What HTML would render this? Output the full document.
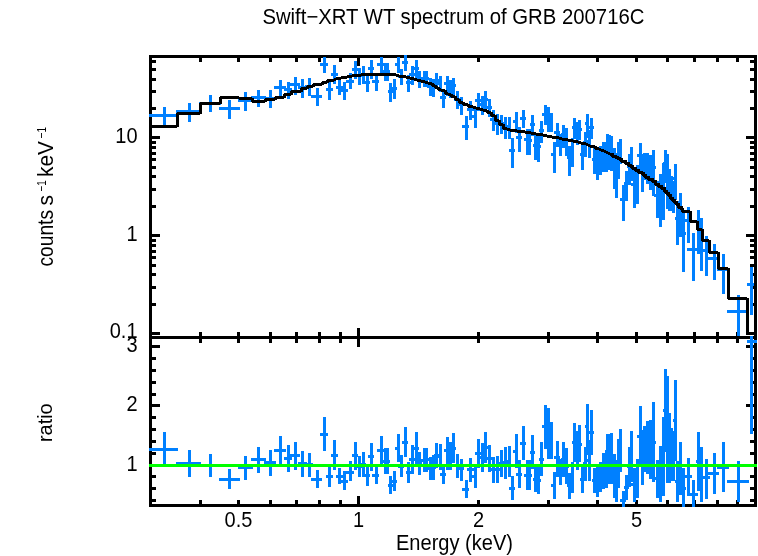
<!DOCTYPE html>
<html><head><meta charset="utf-8"><title>Swift-XRT WT spectrum of GRB 200716C</title>
<style>
html,body{margin:0;padding:0;background:#fff;}
svg{display:block;}
text{font-family:"Liberation Sans",Arial,Helvetica,sans-serif;fill:#000;}
</style></head>
<body>
<svg width="758" height="556" viewBox="0 0 758 556">
<defs>
<clipPath id="cu"><rect x="149" y="55" width="608" height="284"/></clipPath>
<clipPath id="cl"><rect x="149" y="336" width="608" height="171"/></clipPath>
</defs>
<rect width="758" height="556" fill="#fff"/>
<g shape-rendering="crispEdges">
<rect x="149" y="55" width="608" height="3" fill="#000"/>
<rect x="149" y="336" width="608" height="3" fill="#000"/>
<rect x="149" y="55" width="3" height="284" fill="#000"/>
<rect x="754" y="55" width="3" height="284" fill="#000"/>
<rect x="199" y="56" width="3" height="6" fill="#000"/>
<rect x="199" y="332" width="3" height="5" fill="#000"/>
<rect x="237" y="56" width="3" height="6" fill="#000"/>
<rect x="237" y="332" width="3" height="5" fill="#000"/>
<rect x="269" y="56" width="3" height="6" fill="#000"/>
<rect x="269" y="332" width="3" height="5" fill="#000"/>
<rect x="295" y="56" width="3" height="6" fill="#000"/>
<rect x="295" y="332" width="3" height="5" fill="#000"/>
<rect x="318" y="56" width="3" height="6" fill="#000"/>
<rect x="318" y="332" width="3" height="5" fill="#000"/>
<rect x="339" y="56" width="3" height="6" fill="#000"/>
<rect x="339" y="332" width="3" height="5" fill="#000"/>
<rect x="357" y="56" width="3" height="10" fill="#000"/>
<rect x="357" y="328" width="3" height="9" fill="#000"/>
<rect x="477" y="56" width="3" height="6" fill="#000"/>
<rect x="477" y="332" width="3" height="5" fill="#000"/>
<rect x="547" y="56" width="3" height="6" fill="#000"/>
<rect x="547" y="332" width="3" height="5" fill="#000"/>
<rect x="596" y="56" width="3" height="6" fill="#000"/>
<rect x="596" y="332" width="3" height="5" fill="#000"/>
<rect x="635" y="56" width="3" height="6" fill="#000"/>
<rect x="635" y="332" width="3" height="5" fill="#000"/>
<rect x="666" y="56" width="3" height="6" fill="#000"/>
<rect x="666" y="332" width="3" height="5" fill="#000"/>
<rect x="693" y="56" width="3" height="6" fill="#000"/>
<rect x="693" y="332" width="3" height="5" fill="#000"/>
<rect x="716" y="56" width="3" height="6" fill="#000"/>
<rect x="716" y="332" width="3" height="5" fill="#000"/>
<rect x="736" y="56" width="3" height="6" fill="#000"/>
<rect x="736" y="332" width="3" height="5" fill="#000"/>
<rect x="150" y="332" width="10" height="3" fill="#000"/>
<rect x="746" y="332" width="9" height="3" fill="#000"/>
<rect x="150" y="303" width="6" height="3" fill="#000"/>
<rect x="750" y="303" width="5" height="3" fill="#000"/>
<rect x="150" y="286" width="6" height="3" fill="#000"/>
<rect x="750" y="286" width="5" height="3" fill="#000"/>
<rect x="150" y="273" width="6" height="3" fill="#000"/>
<rect x="750" y="273" width="5" height="3" fill="#000"/>
<rect x="150" y="264" width="6" height="3" fill="#000"/>
<rect x="750" y="264" width="5" height="3" fill="#000"/>
<rect x="150" y="256" width="6" height="3" fill="#000"/>
<rect x="750" y="256" width="5" height="3" fill="#000"/>
<rect x="150" y="250" width="6" height="3" fill="#000"/>
<rect x="750" y="250" width="5" height="3" fill="#000"/>
<rect x="150" y="244" width="6" height="3" fill="#000"/>
<rect x="750" y="244" width="5" height="3" fill="#000"/>
<rect x="150" y="239" width="6" height="3" fill="#000"/>
<rect x="750" y="239" width="5" height="3" fill="#000"/>
<rect x="150" y="234" width="10" height="3" fill="#000"/>
<rect x="746" y="234" width="9" height="3" fill="#000"/>
<rect x="150" y="205" width="6" height="3" fill="#000"/>
<rect x="750" y="205" width="5" height="3" fill="#000"/>
<rect x="150" y="188" width="6" height="3" fill="#000"/>
<rect x="750" y="188" width="5" height="3" fill="#000"/>
<rect x="150" y="175" width="6" height="3" fill="#000"/>
<rect x="750" y="175" width="5" height="3" fill="#000"/>
<rect x="150" y="166" width="6" height="3" fill="#000"/>
<rect x="750" y="166" width="5" height="3" fill="#000"/>
<rect x="150" y="158" width="6" height="3" fill="#000"/>
<rect x="750" y="158" width="5" height="3" fill="#000"/>
<rect x="150" y="152" width="6" height="3" fill="#000"/>
<rect x="750" y="152" width="5" height="3" fill="#000"/>
<rect x="150" y="146" width="6" height="3" fill="#000"/>
<rect x="750" y="146" width="5" height="3" fill="#000"/>
<rect x="150" y="141" width="6" height="3" fill="#000"/>
<rect x="750" y="141" width="5" height="3" fill="#000"/>
<rect x="150" y="136" width="10" height="3" fill="#000"/>
<rect x="746" y="136" width="9" height="3" fill="#000"/>
<rect x="150" y="107" width="6" height="3" fill="#000"/>
<rect x="750" y="107" width="5" height="3" fill="#000"/>
<rect x="150" y="90" width="6" height="3" fill="#000"/>
<rect x="750" y="90" width="5" height="3" fill="#000"/>
<rect x="150" y="78" width="6" height="3" fill="#000"/>
<rect x="750" y="78" width="5" height="3" fill="#000"/>
<rect x="150" y="68" width="6" height="3" fill="#000"/>
<rect x="750" y="68" width="5" height="3" fill="#000"/>
<rect x="150" y="60" width="6" height="3" fill="#000"/>
<rect x="750" y="60" width="5" height="3" fill="#000"/>
<g clip-path="url(#cu)">
<rect x="163" y="107" width="3" height="18" fill="#0080ff"/>
<rect x="149" y="114" width="29" height="3" fill="#0080ff"/>
<rect x="188" y="103" width="3" height="19" fill="#0080ff"/>
<rect x="176" y="110" width="25" height="3" fill="#0080ff"/>
<rect x="209" y="95" width="3" height="17" fill="#0080ff"/>
<rect x="199" y="102" width="22" height="3" fill="#0080ff"/>
<rect x="228" y="100" width="3" height="19" fill="#0080ff"/>
<rect x="219" y="107" width="21" height="3" fill="#0080ff"/>
<rect x="244" y="92" width="3" height="19" fill="#0080ff"/>
<rect x="238" y="99" width="15" height="3" fill="#0080ff"/>
<rect x="257" y="90" width="3" height="17" fill="#0080ff"/>
<rect x="251" y="96" width="15" height="3" fill="#0080ff"/>
<rect x="269" y="90" width="3" height="18" fill="#0080ff"/>
<rect x="264" y="97" width="12" height="3" fill="#0080ff"/>
<rect x="279" y="80" width="3" height="17" fill="#0080ff"/>
<rect x="274" y="86" width="12" height="3" fill="#0080ff"/>
<rect x="287" y="82" width="3" height="17" fill="#0080ff"/>
<rect x="284" y="88" width="8" height="3" fill="#0080ff"/>
<rect x="294" y="77" width="3" height="18" fill="#0080ff"/>
<rect x="290" y="83" width="10" height="3" fill="#0080ff"/>
<rect x="301" y="79" width="3" height="19" fill="#0080ff"/>
<rect x="298" y="86" width="9" height="3" fill="#0080ff"/>
<rect x="308" y="78" width="3" height="18" fill="#0080ff"/>
<rect x="305" y="85" width="8" height="3" fill="#0080ff"/>
<rect x="316" y="88" width="3" height="18" fill="#0080ff"/>
<rect x="311" y="95" width="11" height="3" fill="#0080ff"/>
<rect x="323" y="57" width="3" height="16" fill="#0080ff"/>
<rect x="320" y="63" width="8" height="3" fill="#0080ff"/>
<rect x="328" y="82" width="3" height="18" fill="#0080ff"/>
<rect x="326" y="88" width="7" height="3" fill="#0080ff"/>
<rect x="333" y="65" width="3" height="19" fill="#0080ff"/>
<rect x="331" y="73" width="7" height="3" fill="#0080ff"/>
<rect x="338" y="80" width="3" height="15" fill="#0080ff"/>
<rect x="336" y="86" width="7" height="3" fill="#0080ff"/>
<rect x="343" y="82" width="3" height="18" fill="#0080ff"/>
<rect x="341" y="89" width="7" height="3" fill="#0080ff"/>
<rect x="349" y="73" width="3" height="16" fill="#0080ff"/>
<rect x="346" y="80" width="8" height="3" fill="#0080ff"/>
<rect x="354" y="61" width="3" height="18" fill="#0080ff"/>
<rect x="352" y="68" width="6" height="3" fill="#0080ff"/>
<rect x="358" y="68" width="3" height="17" fill="#0080ff"/>
<rect x="356" y="74" width="6" height="3" fill="#0080ff"/>
<rect x="362" y="66" width="3" height="18" fill="#0080ff"/>
<rect x="360" y="73" width="6" height="3" fill="#0080ff"/>
<rect x="366" y="74" width="3" height="18" fill="#0080ff"/>
<rect x="364" y="81" width="6" height="3" fill="#0080ff"/>
<rect x="370" y="60" width="3" height="19" fill="#0080ff"/>
<rect x="368" y="67" width="6" height="3" fill="#0080ff"/>
<rect x="375" y="75" width="3" height="16" fill="#0080ff"/>
<rect x="372" y="80" width="7" height="3" fill="#0080ff"/>
<rect x="380" y="57" width="3" height="16" fill="#0080ff"/>
<rect x="377" y="63" width="7" height="3" fill="#0080ff"/>
<rect x="384" y="63" width="3" height="18" fill="#0080ff"/>
<rect x="382" y="70" width="5" height="3" fill="#0080ff"/>
<rect x="386" y="63" width="3" height="18" fill="#0080ff"/>
<rect x="385" y="70" width="5" height="3" fill="#0080ff"/>
<rect x="389" y="83" width="3" height="19" fill="#0080ff"/>
<rect x="388" y="90" width="5" height="3" fill="#0080ff"/>
<rect x="393" y="79" width="3" height="20" fill="#0080ff"/>
<rect x="391" y="87" width="6" height="3" fill="#0080ff"/>
<rect x="397" y="57" width="3" height="16" fill="#0080ff"/>
<rect x="395" y="63" width="5" height="3" fill="#0080ff"/>
<rect x="400" y="69" width="3" height="16" fill="#0080ff"/>
<rect x="398" y="75" width="6" height="3" fill="#0080ff"/>
<rect x="404" y="55" width="3" height="16" fill="#0080ff"/>
<rect x="402" y="61" width="6" height="3" fill="#0080ff"/>
<rect x="407" y="75" width="3" height="17" fill="#0080ff"/>
<rect x="406" y="81" width="5" height="3" fill="#0080ff"/>
<rect x="411" y="66" width="3" height="19" fill="#0080ff"/>
<rect x="409" y="73" width="6" height="3" fill="#0080ff"/>
<rect x="415" y="60" width="3" height="19" fill="#0080ff"/>
<rect x="413" y="67" width="6" height="3" fill="#0080ff"/>
<rect x="418" y="71" width="3" height="17" fill="#0080ff"/>
<rect x="417" y="78" width="5" height="3" fill="#0080ff"/>
<rect x="423" y="71" width="3" height="16" fill="#0080ff"/>
<rect x="420" y="77" width="6" height="3" fill="#0080ff"/>
<rect x="425" y="71" width="3" height="16" fill="#0080ff"/>
<rect x="424" y="77" width="5" height="3" fill="#0080ff"/>
<rect x="429" y="78" width="3" height="18" fill="#0080ff"/>
<rect x="427" y="85" width="6" height="3" fill="#0080ff"/>
<rect x="432" y="79" width="3" height="18" fill="#0080ff"/>
<rect x="431" y="86" width="5" height="3" fill="#0080ff"/>
<rect x="435" y="73" width="3" height="16" fill="#0080ff"/>
<rect x="434" y="79" width="5" height="3" fill="#0080ff"/>
<rect x="439" y="76" width="3" height="16" fill="#0080ff"/>
<rect x="437" y="82" width="5" height="3" fill="#0080ff"/>
<rect x="442" y="90" width="3" height="18" fill="#0080ff"/>
<rect x="440" y="96" width="6" height="3" fill="#0080ff"/>
<rect x="446" y="76" width="3" height="20" fill="#0080ff"/>
<rect x="444" y="82" width="5" height="3" fill="#0080ff"/>
<rect x="449" y="80" width="3" height="18" fill="#0080ff"/>
<rect x="447" y="87" width="6" height="3" fill="#0080ff"/>
<rect x="452" y="78" width="3" height="17" fill="#0080ff"/>
<rect x="451" y="84" width="5" height="3" fill="#0080ff"/>
<rect x="456" y="91" width="3" height="18" fill="#0080ff"/>
<rect x="454" y="98" width="6" height="3" fill="#0080ff"/>
<rect x="460" y="97" width="3" height="18" fill="#0080ff"/>
<rect x="458" y="103" width="6" height="3" fill="#0080ff"/>
<rect x="465" y="116" width="3" height="24" fill="#0080ff"/>
<rect x="462" y="125" width="7" height="3" fill="#0080ff"/>
<rect x="469" y="101" width="3" height="19" fill="#0080ff"/>
<rect x="467" y="108" width="7" height="3" fill="#0080ff"/>
<rect x="474" y="108" width="3" height="20" fill="#0080ff"/>
<rect x="472" y="115" width="5" height="3" fill="#0080ff"/>
<rect x="477" y="93" width="3" height="18" fill="#0080ff"/>
<rect x="475" y="99" width="6" height="3" fill="#0080ff"/>
<rect x="481" y="96" width="3" height="19" fill="#0080ff"/>
<rect x="479" y="103" width="6" height="3" fill="#0080ff"/>
<rect x="484" y="91" width="3" height="18" fill="#0080ff"/>
<rect x="483" y="98" width="5" height="3" fill="#0080ff"/>
<rect x="488" y="99" width="3" height="18" fill="#0080ff"/>
<rect x="486" y="106" width="6" height="3" fill="#0080ff"/>
<rect x="492" y="110" width="3" height="21" fill="#0080ff"/>
<rect x="490" y="118" width="6" height="3" fill="#0080ff"/>
<rect x="496" y="114" width="3" height="21" fill="#0080ff"/>
<rect x="494" y="122" width="6" height="3" fill="#0080ff"/>
<rect x="500" y="115" width="3" height="19" fill="#0080ff"/>
<rect x="498" y="122" width="6" height="3" fill="#0080ff"/>
<rect x="504" y="117" width="3" height="22" fill="#0080ff"/>
<rect x="502" y="125" width="6" height="3" fill="#0080ff"/>
<rect x="508" y="117" width="3" height="22" fill="#0080ff"/>
<rect x="506" y="125" width="5" height="3" fill="#0080ff"/>
<rect x="511" y="138" width="3" height="30" fill="#0080ff"/>
<rect x="509" y="149" width="6" height="3" fill="#0080ff"/>
<rect x="515" y="112" width="3" height="21" fill="#0080ff"/>
<rect x="513" y="120" width="5" height="3" fill="#0080ff"/>
<rect x="518" y="127" width="3" height="25" fill="#0080ff"/>
<rect x="516" y="136" width="6" height="3" fill="#0080ff"/>
<rect x="522" y="110" width="3" height="18" fill="#0080ff"/>
<rect x="520" y="117" width="6" height="3" fill="#0080ff"/>
<rect x="526" y="129" width="3" height="26" fill="#0080ff"/>
<rect x="524" y="138" width="5" height="3" fill="#0080ff"/>
<rect x="528" y="129" width="3" height="26" fill="#0080ff"/>
<rect x="527" y="139" width="5" height="3" fill="#0080ff"/>
<rect x="531" y="115" width="3" height="21" fill="#0080ff"/>
<rect x="530" y="123" width="5" height="3" fill="#0080ff"/>
<rect x="534" y="134" width="3" height="26" fill="#0080ff"/>
<rect x="533" y="144" width="5" height="3" fill="#0080ff"/>
<rect x="537" y="135" width="3" height="27" fill="#0080ff"/>
<rect x="536" y="145" width="5" height="3" fill="#0080ff"/>
<rect x="540" y="121" width="3" height="22" fill="#0080ff"/>
<rect x="539" y="129" width="5" height="3" fill="#0080ff"/>
<rect x="544" y="105" width="3" height="20" fill="#0080ff"/>
<rect x="542" y="113" width="6" height="3" fill="#0080ff"/>
<rect x="547" y="107" width="3" height="25" fill="#0080ff"/>
<rect x="546" y="116" width="5" height="3" fill="#0080ff"/>
<rect x="550" y="113" width="3" height="19" fill="#0080ff"/>
<rect x="549" y="120" width="4" height="3" fill="#0080ff"/>
<rect x="553" y="142" width="3" height="31" fill="#0080ff"/>
<rect x="551" y="153" width="5" height="3" fill="#0080ff"/>
<rect x="556" y="123" width="3" height="24" fill="#0080ff"/>
<rect x="554" y="131" width="6" height="3" fill="#0080ff"/>
<rect x="559" y="134" width="3" height="22" fill="#0080ff"/>
<rect x="558" y="142" width="5" height="3" fill="#0080ff"/>
<rect x="562" y="125" width="3" height="23" fill="#0080ff"/>
<rect x="561" y="133" width="5" height="3" fill="#0080ff"/>
<rect x="565" y="128" width="3" height="28" fill="#0080ff"/>
<rect x="564" y="139" width="5" height="3" fill="#0080ff"/>
<rect x="568" y="146" width="3" height="30" fill="#0080ff"/>
<rect x="567" y="156" width="4" height="3" fill="#0080ff"/>
<rect x="571" y="138" width="3" height="29" fill="#0080ff"/>
<rect x="569" y="149" width="5" height="3" fill="#0080ff"/>
<rect x="573" y="118" width="3" height="21" fill="#0080ff"/>
<rect x="572" y="126" width="4" height="3" fill="#0080ff"/>
<rect x="576" y="122" width="3" height="23" fill="#0080ff"/>
<rect x="574" y="131" width="5" height="3" fill="#0080ff"/>
<rect x="578" y="120" width="3" height="20" fill="#0080ff"/>
<rect x="577" y="128" width="5" height="3" fill="#0080ff"/>
<rect x="581" y="144" width="3" height="26" fill="#0080ff"/>
<rect x="580" y="153" width="5" height="3" fill="#0080ff"/>
<rect x="584" y="132" width="3" height="25" fill="#0080ff"/>
<rect x="583" y="141" width="4" height="3" fill="#0080ff"/>
<rect x="586" y="114" width="3" height="24" fill="#0080ff"/>
<rect x="585" y="122" width="4" height="3" fill="#0080ff"/>
<rect x="588" y="130" width="3" height="28" fill="#0080ff"/>
<rect x="587" y="140" width="4" height="3" fill="#0080ff"/>
<rect x="590" y="118" width="3" height="21" fill="#0080ff"/>
<rect x="589" y="126" width="5" height="3" fill="#0080ff"/>
<rect x="593" y="148" width="3" height="26" fill="#0080ff"/>
<rect x="592" y="158" width="5" height="3" fill="#0080ff"/>
<rect x="596" y="148" width="3" height="32" fill="#0080ff"/>
<rect x="595" y="160" width="5" height="3" fill="#0080ff"/>
<rect x="599" y="146" width="3" height="29" fill="#0080ff"/>
<rect x="598" y="157" width="4" height="3" fill="#0080ff"/>
<rect x="602" y="142" width="3" height="30" fill="#0080ff"/>
<rect x="600" y="153" width="5" height="3" fill="#0080ff"/>
<rect x="605" y="142" width="3" height="30" fill="#0080ff"/>
<rect x="603" y="153" width="4" height="3" fill="#0080ff"/>
<rect x="606" y="134" width="3" height="26" fill="#0080ff"/>
<rect x="605" y="144" width="4" height="3" fill="#0080ff"/>
<rect x="608" y="135" width="3" height="35" fill="#0080ff"/>
<rect x="607" y="147" width="4" height="3" fill="#0080ff"/>
<rect x="610" y="136" width="3" height="35" fill="#0080ff"/>
<rect x="609" y="148" width="4" height="3" fill="#0080ff"/>
<rect x="613" y="148" width="3" height="41" fill="#0080ff"/>
<rect x="611" y="163" width="5" height="3" fill="#0080ff"/>
<rect x="615" y="153" width="3" height="45" fill="#0080ff"/>
<rect x="614" y="169" width="4" height="3" fill="#0080ff"/>
<rect x="617" y="142" width="3" height="37" fill="#0080ff"/>
<rect x="616" y="155" width="4" height="3" fill="#0080ff"/>
<rect x="619" y="139" width="3" height="25" fill="#0080ff"/>
<rect x="618" y="148" width="4" height="3" fill="#0080ff"/>
<rect x="622" y="185" width="3" height="36" fill="#0080ff"/>
<rect x="620" y="198" width="6" height="3" fill="#0080ff"/>
<rect x="625" y="171" width="3" height="30" fill="#0080ff"/>
<rect x="624" y="182" width="5" height="3" fill="#0080ff"/>
<rect x="628" y="154" width="3" height="31" fill="#0080ff"/>
<rect x="627" y="165" width="4" height="3" fill="#0080ff"/>
<rect x="630" y="147" width="3" height="34" fill="#0080ff"/>
<rect x="629" y="159" width="4" height="3" fill="#0080ff"/>
<rect x="633" y="170" width="3" height="38" fill="#0080ff"/>
<rect x="631" y="183" width="5" height="3" fill="#0080ff"/>
<rect x="636" y="165" width="3" height="39" fill="#0080ff"/>
<rect x="634" y="179" width="5" height="3" fill="#0080ff"/>
<rect x="639" y="143" width="3" height="30" fill="#0080ff"/>
<rect x="637" y="154" width="5" height="3" fill="#0080ff"/>
<rect x="641" y="154" width="3" height="38" fill="#0080ff"/>
<rect x="640" y="167" width="4" height="3" fill="#0080ff"/>
<rect x="643" y="153" width="3" height="27" fill="#0080ff"/>
<rect x="642" y="163" width="4" height="3" fill="#0080ff"/>
<rect x="646" y="153" width="3" height="31" fill="#0080ff"/>
<rect x="644" y="164" width="5" height="3" fill="#0080ff"/>
<rect x="649" y="155" width="3" height="35" fill="#0080ff"/>
<rect x="647" y="168" width="6" height="3" fill="#0080ff"/>
<rect x="652" y="150" width="3" height="46" fill="#0080ff"/>
<rect x="651" y="166" width="5" height="3" fill="#0080ff"/>
<rect x="656" y="181" width="3" height="37" fill="#0080ff"/>
<rect x="654" y="194" width="6" height="3" fill="#0080ff"/>
<rect x="659" y="174" width="3" height="53" fill="#0080ff"/>
<rect x="658" y="191" width="4" height="3" fill="#0080ff"/>
<rect x="662" y="163" width="3" height="57" fill="#0080ff"/>
<rect x="660" y="181" width="5" height="3" fill="#0080ff"/>
<rect x="664" y="150" width="3" height="33" fill="#0080ff"/>
<rect x="663" y="162" width="4" height="3" fill="#0080ff"/>
<rect x="666" y="154" width="3" height="55" fill="#0080ff"/>
<rect x="665" y="172" width="4" height="3" fill="#0080ff"/>
<rect x="668" y="169" width="3" height="42" fill="#0080ff"/>
<rect x="667" y="183" width="4" height="3" fill="#0080ff"/>
<rect x="670" y="176" width="3" height="35" fill="#0080ff"/>
<rect x="669" y="189" width="4" height="3" fill="#0080ff"/>
<rect x="672" y="181" width="3" height="32" fill="#0080ff"/>
<rect x="671" y="192" width="4" height="3" fill="#0080ff"/>
<rect x="674" y="164" width="3" height="36" fill="#0080ff"/>
<rect x="673" y="177" width="4" height="3" fill="#0080ff"/>
<rect x="676" y="201" width="3" height="44" fill="#0080ff"/>
<rect x="675" y="217" width="5" height="3" fill="#0080ff"/>
<rect x="679" y="193" width="3" height="44" fill="#0080ff"/>
<rect x="678" y="209" width="4" height="3" fill="#0080ff"/>
<rect x="682" y="213" width="3" height="59" fill="#0080ff"/>
<rect x="680" y="232" width="6" height="3" fill="#0080ff"/>
<rect x="687" y="207" width="3" height="36" fill="#0080ff"/>
<rect x="684" y="219" width="8" height="3" fill="#0080ff"/>
<rect x="692" y="233" width="3" height="48" fill="#0080ff"/>
<rect x="687" y="248" width="11" height="3" fill="#0080ff"/>
<rect x="697" y="210" width="3" height="44" fill="#0080ff"/>
<rect x="696" y="225" width="5" height="3" fill="#0080ff"/>
<rect x="700" y="218" width="3" height="53" fill="#0080ff"/>
<rect x="699" y="235" width="4" height="3" fill="#0080ff"/>
<rect x="705" y="236" width="3" height="40" fill="#0080ff"/>
<rect x="701" y="249" width="9" height="3" fill="#0080ff"/>
<rect x="713" y="244" width="3" height="36" fill="#0080ff"/>
<rect x="708" y="257" width="11" height="3" fill="#0080ff"/>
<rect x="722" y="254" width="3" height="40" fill="#0080ff"/>
<rect x="717" y="268" width="12" height="3" fill="#0080ff"/>
<rect x="737" y="295" width="3" height="45" fill="#0080ff"/>
<rect x="727" y="310" width="22" height="3" fill="#0080ff"/>
<rect x="750" y="267" width="3" height="48" fill="#0080ff"/>
<rect x="747" y="283" width="10" height="3" fill="#0080ff"/>
<rect x="176" y="113" width="3" height="14" fill="#000"/>
<rect x="199" y="103" width="3" height="11" fill="#000"/>
<rect x="219" y="97" width="3" height="7" fill="#000"/>
<rect x="238" y="97" width="3" height="2" fill="#000"/>
<rect x="251" y="98" width="3" height="4" fill="#000"/>
<rect x="264" y="99" width="3" height="3" fill="#000"/>
<rect x="274" y="97" width="3" height="3" fill="#000"/>
<rect x="283" y="94" width="3" height="4" fill="#000"/>
<rect x="290" y="91" width="3" height="4" fill="#000"/>
<rect x="300" y="88" width="3" height="4" fill="#000"/>
<rect x="306" y="86" width="3" height="3" fill="#000"/>
<rect x="312" y="84" width="3" height="3" fill="#000"/>
<rect x="321" y="82" width="3" height="3" fill="#000"/>
<rect x="326" y="80" width="3" height="3" fill="#000"/>
<rect x="333" y="79" width="3" height="2" fill="#000"/>
<rect x="335" y="78" width="3" height="2" fill="#000"/>
<rect x="340" y="77" width="3" height="2" fill="#000"/>
<rect x="346" y="76" width="3" height="2" fill="#000"/>
<rect x="351" y="75" width="3" height="2" fill="#000"/>
<rect x="360" y="74" width="3" height="2" fill="#000"/>
<rect x="395" y="74" width="3" height="2" fill="#000"/>
<rect x="398" y="75" width="3" height="2" fill="#000"/>
<rect x="405" y="76" width="3" height="2" fill="#000"/>
<rect x="409" y="77" width="3" height="2" fill="#000"/>
<rect x="413" y="78" width="3" height="2" fill="#000"/>
<rect x="416" y="79" width="3" height="2" fill="#000"/>
<rect x="420" y="80" width="3" height="2" fill="#000"/>
<rect x="424" y="81" width="3" height="2" fill="#000"/>
<rect x="427" y="82" width="3" height="2" fill="#000"/>
<rect x="431" y="83" width="3" height="3" fill="#000"/>
<rect x="434" y="85" width="3" height="3" fill="#000"/>
<rect x="437" y="87" width="3" height="3" fill="#000"/>
<rect x="440" y="89" width="3" height="2" fill="#000"/>
<rect x="444" y="90" width="3" height="4" fill="#000"/>
<rect x="447" y="93" width="3" height="2" fill="#000"/>
<rect x="450" y="94" width="3" height="3" fill="#000"/>
<rect x="454" y="96" width="3" height="4" fill="#000"/>
<rect x="458" y="99" width="3" height="4" fill="#000"/>
<rect x="462" y="102" width="3" height="3" fill="#000"/>
<rect x="467" y="104" width="3" height="3" fill="#000"/>
<rect x="472" y="106" width="3" height="2" fill="#000"/>
<rect x="475" y="107" width="3" height="2" fill="#000"/>
<rect x="479" y="108" width="3" height="2" fill="#000"/>
<rect x="482" y="109" width="3" height="2" fill="#000"/>
<rect x="486" y="110" width="3" height="3" fill="#000"/>
<rect x="490" y="112" width="3" height="4" fill="#000"/>
<rect x="494" y="115" width="3" height="6" fill="#000"/>
<rect x="498" y="120" width="3" height="5" fill="#000"/>
<rect x="502" y="124" width="3" height="5" fill="#000"/>
<rect x="506" y="128" width="3" height="2" fill="#000"/>
<rect x="509" y="129" width="3" height="2" fill="#000"/>
<rect x="516" y="130" width="3" height="2" fill="#000"/>
<rect x="524" y="131" width="3" height="2" fill="#000"/>
<rect x="530" y="132" width="3" height="2" fill="#000"/>
<rect x="535" y="133" width="3" height="2" fill="#000"/>
<rect x="542" y="134" width="3" height="2" fill="#000"/>
<rect x="546" y="135" width="3" height="2" fill="#000"/>
<rect x="551" y="136" width="3" height="2" fill="#000"/>
<rect x="558" y="137" width="3" height="2" fill="#000"/>
<rect x="561" y="138" width="3" height="2" fill="#000"/>
<rect x="567" y="139" width="3" height="2" fill="#000"/>
<rect x="572" y="140" width="3" height="2" fill="#000"/>
<rect x="577" y="141" width="3" height="2" fill="#000"/>
<rect x="580" y="142" width="3" height="2" fill="#000"/>
<rect x="585" y="143" width="3" height="2" fill="#000"/>
<rect x="587" y="144" width="3" height="2" fill="#000"/>
<rect x="589" y="145" width="3" height="2" fill="#000"/>
<rect x="594" y="146" width="3" height="3" fill="#000"/>
<rect x="598" y="148" width="3" height="2" fill="#000"/>
<rect x="600" y="149" width="3" height="2" fill="#000"/>
<rect x="603" y="150" width="3" height="2" fill="#000"/>
<rect x="605" y="151" width="3" height="2" fill="#000"/>
<rect x="607" y="152" width="3" height="2" fill="#000"/>
<rect x="609" y="153" width="3" height="2" fill="#000"/>
<rect x="611" y="153" width="3" height="4" fill="#000"/>
<rect x="614" y="155" width="3" height="3" fill="#000"/>
<rect x="616" y="156" width="3" height="3" fill="#000"/>
<rect x="618" y="157" width="3" height="3" fill="#000"/>
<rect x="620" y="158" width="3" height="4" fill="#000"/>
<rect x="624" y="160" width="3" height="4" fill="#000"/>
<rect x="627" y="162" width="3" height="4" fill="#000"/>
<rect x="629" y="164" width="3" height="3" fill="#000"/>
<rect x="631" y="165" width="3" height="4" fill="#000"/>
<rect x="634" y="167" width="3" height="4" fill="#000"/>
<rect x="637" y="169" width="3" height="4" fill="#000"/>
<rect x="640" y="171" width="3" height="3" fill="#000"/>
<rect x="642" y="172" width="3" height="4" fill="#000"/>
<rect x="644" y="174" width="3" height="4" fill="#000"/>
<rect x="647" y="176" width="3" height="4" fill="#000"/>
<rect x="651" y="178" width="3" height="4" fill="#000"/>
<rect x="654" y="180" width="3" height="5" fill="#000"/>
<rect x="657" y="183" width="3" height="4" fill="#000"/>
<rect x="660" y="185" width="3" height="4" fill="#000"/>
<rect x="663" y="187" width="3" height="5" fill="#000"/>
<rect x="665" y="190" width="3" height="4" fill="#000"/>
<rect x="667" y="192" width="3" height="4" fill="#000"/>
<rect x="669" y="194" width="3" height="5" fill="#000"/>
<rect x="671" y="197" width="3" height="4" fill="#000"/>
<rect x="673" y="199" width="3" height="4" fill="#000"/>
<rect x="675" y="201" width="3" height="4" fill="#000"/>
<rect x="677" y="203" width="3" height="5" fill="#000"/>
<rect x="680" y="206" width="3" height="4" fill="#000"/>
<rect x="681" y="208" width="3" height="4" fill="#000"/>
<rect x="689" y="211" width="3" height="11" fill="#000"/>
<rect x="696" y="221" width="3" height="9" fill="#000"/>
<rect x="701" y="229" width="3" height="12" fill="#000"/>
<rect x="708" y="240" width="3" height="13" fill="#000"/>
<rect x="717" y="252" width="3" height="17" fill="#000"/>
<rect x="727" y="268" width="3" height="31" fill="#000"/>
<rect x="746" y="298" width="3" height="36" fill="#000"/>
<rect x="754" y="209" width="3" height="125" fill="#000"/>
<rect x="150" y="125" width="27" height="3" fill="#000"/>
<rect x="177" y="112" width="23" height="3" fill="#000"/>
<rect x="200" y="102" width="20" height="3" fill="#000"/>
<rect x="220" y="96" width="19" height="3" fill="#000"/>
<rect x="239" y="97" width="13" height="3" fill="#000"/>
<rect x="252" y="100" width="13" height="3" fill="#000"/>
<rect x="265" y="98" width="10" height="3" fill="#000"/>
<rect x="275" y="96" width="9" height="3" fill="#000"/>
<rect x="284" y="93" width="7" height="3" fill="#000"/>
<rect x="291" y="90" width="10" height="3" fill="#000"/>
<rect x="301" y="87" width="6" height="3" fill="#000"/>
<rect x="307" y="85" width="6" height="3" fill="#000"/>
<rect x="313" y="83" width="9" height="3" fill="#000"/>
<rect x="322" y="81" width="5" height="3" fill="#000"/>
<rect x="327" y="79" width="7" height="3" fill="#000"/>
<rect x="334" y="78" width="2" height="3" fill="#000"/>
<rect x="336" y="77" width="5" height="3" fill="#000"/>
<rect x="341" y="76" width="6" height="3" fill="#000"/>
<rect x="347" y="75" width="5" height="3" fill="#000"/>
<rect x="352" y="74" width="9" height="3" fill="#000"/>
<rect x="361" y="73" width="35" height="3" fill="#000"/>
<rect x="396" y="74" width="3" height="3" fill="#000"/>
<rect x="399" y="75" width="7" height="3" fill="#000"/>
<rect x="406" y="76" width="4" height="3" fill="#000"/>
<rect x="410" y="77" width="4" height="3" fill="#000"/>
<rect x="414" y="78" width="3" height="3" fill="#000"/>
<rect x="417" y="79" width="4" height="3" fill="#000"/>
<rect x="421" y="80" width="4" height="3" fill="#000"/>
<rect x="425" y="81" width="3" height="3" fill="#000"/>
<rect x="428" y="82" width="4" height="3" fill="#000"/>
<rect x="432" y="84" width="3" height="3" fill="#000"/>
<rect x="435" y="86" width="3" height="3" fill="#000"/>
<rect x="438" y="88" width="3" height="3" fill="#000"/>
<rect x="441" y="89" width="4" height="3" fill="#000"/>
<rect x="445" y="92" width="3" height="3" fill="#000"/>
<rect x="448" y="93" width="3" height="3" fill="#000"/>
<rect x="451" y="95" width="4" height="3" fill="#000"/>
<rect x="455" y="98" width="4" height="3" fill="#000"/>
<rect x="459" y="101" width="4" height="3" fill="#000"/>
<rect x="463" y="103" width="5" height="3" fill="#000"/>
<rect x="468" y="105" width="5" height="3" fill="#000"/>
<rect x="473" y="106" width="3" height="3" fill="#000"/>
<rect x="476" y="107" width="4" height="3" fill="#000"/>
<rect x="480" y="108" width="3" height="3" fill="#000"/>
<rect x="483" y="109" width="4" height="3" fill="#000"/>
<rect x="487" y="111" width="4" height="3" fill="#000"/>
<rect x="491" y="114" width="4" height="3" fill="#000"/>
<rect x="495" y="119" width="4" height="3" fill="#000"/>
<rect x="499" y="123" width="4" height="3" fill="#000"/>
<rect x="503" y="127" width="4" height="3" fill="#000"/>
<rect x="507" y="128" width="3" height="3" fill="#000"/>
<rect x="510" y="129" width="7" height="3" fill="#000"/>
<rect x="517" y="130" width="8" height="3" fill="#000"/>
<rect x="525" y="131" width="6" height="3" fill="#000"/>
<rect x="531" y="132" width="5" height="3" fill="#000"/>
<rect x="536" y="133" width="7" height="3" fill="#000"/>
<rect x="543" y="134" width="4" height="3" fill="#000"/>
<rect x="547" y="135" width="5" height="3" fill="#000"/>
<rect x="552" y="136" width="7" height="3" fill="#000"/>
<rect x="559" y="137" width="3" height="3" fill="#000"/>
<rect x="562" y="138" width="6" height="3" fill="#000"/>
<rect x="568" y="139" width="5" height="3" fill="#000"/>
<rect x="573" y="140" width="5" height="3" fill="#000"/>
<rect x="578" y="141" width="3" height="3" fill="#000"/>
<rect x="581" y="142" width="5" height="3" fill="#000"/>
<rect x="586" y="143" width="2" height="3" fill="#000"/>
<rect x="588" y="144" width="2" height="3" fill="#000"/>
<rect x="590" y="145" width="5" height="3" fill="#000"/>
<rect x="595" y="147" width="4" height="3" fill="#000"/>
<rect x="599" y="148" width="2" height="3" fill="#000"/>
<rect x="601" y="149" width="3" height="3" fill="#000"/>
<rect x="604" y="150" width="2" height="3" fill="#000"/>
<rect x="606" y="151" width="2" height="3" fill="#000"/>
<rect x="608" y="152" width="2" height="3" fill="#000"/>
<rect x="610" y="153" width="2" height="3" fill="#000"/>
<rect x="612" y="155" width="3" height="3" fill="#000"/>
<rect x="615" y="156" width="2" height="3" fill="#000"/>
<rect x="617" y="157" width="2" height="3" fill="#000"/>
<rect x="619" y="158" width="2" height="3" fill="#000"/>
<rect x="621" y="160" width="4" height="3" fill="#000"/>
<rect x="625" y="162" width="3" height="3" fill="#000"/>
<rect x="628" y="164" width="2" height="3" fill="#000"/>
<rect x="630" y="165" width="2" height="3" fill="#000"/>
<rect x="632" y="167" width="3" height="3" fill="#000"/>
<rect x="635" y="169" width="3" height="3" fill="#000"/>
<rect x="638" y="171" width="3" height="3" fill="#000"/>
<rect x="641" y="172" width="2" height="3" fill="#000"/>
<rect x="643" y="174" width="2" height="3" fill="#000"/>
<rect x="645" y="176" width="3" height="3" fill="#000"/>
<rect x="648" y="178" width="4" height="3" fill="#000"/>
<rect x="652" y="180" width="3" height="3" fill="#000"/>
<rect x="655" y="183" width="3" height="3" fill="#000"/>
<rect x="658" y="185" width="3" height="3" fill="#000"/>
<rect x="661" y="187" width="3" height="3" fill="#000"/>
<rect x="664" y="190" width="2" height="3" fill="#000"/>
<rect x="666" y="192" width="2" height="3" fill="#000"/>
<rect x="668" y="194" width="2" height="3" fill="#000"/>
<rect x="670" y="197" width="2" height="3" fill="#000"/>
<rect x="672" y="199" width="2" height="3" fill="#000"/>
<rect x="674" y="201" width="2" height="3" fill="#000"/>
<rect x="676" y="203" width="2" height="3" fill="#000"/>
<rect x="678" y="206" width="3" height="3" fill="#000"/>
<rect x="681" y="208" width="1" height="3" fill="#000"/>
<rect x="682" y="210" width="8" height="3" fill="#000"/>
<rect x="690" y="220" width="7" height="3" fill="#000"/>
<rect x="697" y="228" width="5" height="3" fill="#000"/>
<rect x="702" y="239" width="7" height="3" fill="#000"/>
<rect x="709" y="251" width="9" height="3" fill="#000"/>
<rect x="718" y="267" width="10" height="3" fill="#000"/>
<rect x="728" y="297" width="19" height="3" fill="#000"/>
<rect x="747" y="332" width="8" height="3" fill="#000"/>
<rect x="755" y="208" width="1" height="3" fill="#000"/>
</g>
<rect x="149" y="336" width="608" height="3" fill="#000"/>
<rect x="149" y="504" width="608" height="3" fill="#000"/>
<rect x="149" y="336" width="3" height="171" fill="#000"/>
<rect x="754" y="336" width="3" height="171" fill="#000"/>
<rect x="199" y="337" width="3" height="6" fill="#000"/>
<rect x="199" y="500" width="3" height="5" fill="#000"/>
<rect x="237" y="337" width="3" height="6" fill="#000"/>
<rect x="237" y="500" width="3" height="5" fill="#000"/>
<rect x="269" y="337" width="3" height="6" fill="#000"/>
<rect x="269" y="500" width="3" height="5" fill="#000"/>
<rect x="295" y="337" width="3" height="6" fill="#000"/>
<rect x="295" y="500" width="3" height="5" fill="#000"/>
<rect x="318" y="337" width="3" height="6" fill="#000"/>
<rect x="318" y="500" width="3" height="5" fill="#000"/>
<rect x="339" y="337" width="3" height="6" fill="#000"/>
<rect x="339" y="500" width="3" height="5" fill="#000"/>
<rect x="357" y="337" width="3" height="10" fill="#000"/>
<rect x="357" y="496" width="3" height="9" fill="#000"/>
<rect x="477" y="337" width="3" height="6" fill="#000"/>
<rect x="477" y="500" width="3" height="5" fill="#000"/>
<rect x="547" y="337" width="3" height="6" fill="#000"/>
<rect x="547" y="500" width="3" height="5" fill="#000"/>
<rect x="596" y="337" width="3" height="6" fill="#000"/>
<rect x="596" y="500" width="3" height="5" fill="#000"/>
<rect x="635" y="337" width="3" height="6" fill="#000"/>
<rect x="635" y="500" width="3" height="5" fill="#000"/>
<rect x="666" y="337" width="3" height="6" fill="#000"/>
<rect x="666" y="500" width="3" height="5" fill="#000"/>
<rect x="693" y="337" width="3" height="6" fill="#000"/>
<rect x="693" y="500" width="3" height="5" fill="#000"/>
<rect x="716" y="337" width="3" height="6" fill="#000"/>
<rect x="716" y="500" width="3" height="5" fill="#000"/>
<rect x="736" y="337" width="3" height="6" fill="#000"/>
<rect x="736" y="500" width="3" height="5" fill="#000"/>
<rect x="150" y="499" width="6" height="3" fill="#000"/>
<rect x="750" y="499" width="5" height="3" fill="#000"/>
<rect x="150" y="487" width="6" height="3" fill="#000"/>
<rect x="750" y="487" width="5" height="3" fill="#000"/>
<rect x="150" y="475" width="6" height="3" fill="#000"/>
<rect x="750" y="475" width="5" height="3" fill="#000"/>
<rect x="150" y="464" width="10" height="3" fill="#000"/>
<rect x="746" y="464" width="9" height="3" fill="#000"/>
<rect x="150" y="452" width="6" height="3" fill="#000"/>
<rect x="750" y="452" width="5" height="3" fill="#000"/>
<rect x="150" y="440" width="6" height="3" fill="#000"/>
<rect x="750" y="440" width="5" height="3" fill="#000"/>
<rect x="150" y="428" width="6" height="3" fill="#000"/>
<rect x="750" y="428" width="5" height="3" fill="#000"/>
<rect x="150" y="416" width="6" height="3" fill="#000"/>
<rect x="750" y="416" width="5" height="3" fill="#000"/>
<rect x="150" y="404" width="10" height="3" fill="#000"/>
<rect x="746" y="404" width="9" height="3" fill="#000"/>
<rect x="150" y="393" width="6" height="3" fill="#000"/>
<rect x="750" y="393" width="5" height="3" fill="#000"/>
<rect x="150" y="381" width="6" height="3" fill="#000"/>
<rect x="750" y="381" width="5" height="3" fill="#000"/>
<rect x="150" y="369" width="6" height="3" fill="#000"/>
<rect x="750" y="369" width="5" height="3" fill="#000"/>
<rect x="150" y="357" width="6" height="3" fill="#000"/>
<rect x="750" y="357" width="5" height="3" fill="#000"/>
<rect x="150" y="345" width="10" height="3" fill="#000"/>
<rect x="746" y="345" width="9" height="3" fill="#000"/>
<g clip-path="url(#cl)">
<rect x="163" y="432" width="3" height="35" fill="#0080ff"/>
<rect x="149" y="448" width="29" height="3" fill="#0080ff"/>
<rect x="188" y="450" width="3" height="27" fill="#0080ff"/>
<rect x="176" y="462" width="25" height="3" fill="#0080ff"/>
<rect x="209" y="454" width="3" height="23" fill="#0080ff"/>
<rect x="199" y="464" width="22" height="3" fill="#0080ff"/>
<rect x="228" y="469" width="3" height="20" fill="#0080ff"/>
<rect x="219" y="478" width="21" height="3" fill="#0080ff"/>
<rect x="244" y="456" width="3" height="24" fill="#0080ff"/>
<rect x="238" y="466" width="15" height="3" fill="#0080ff"/>
<rect x="257" y="447" width="3" height="26" fill="#0080ff"/>
<rect x="251" y="458" width="15" height="3" fill="#0080ff"/>
<rect x="269" y="450" width="3" height="26" fill="#0080ff"/>
<rect x="264" y="461" width="12" height="3" fill="#0080ff"/>
<rect x="279" y="436" width="3" height="29" fill="#0080ff"/>
<rect x="274" y="449" width="12" height="3" fill="#0080ff"/>
<rect x="287" y="445" width="3" height="27" fill="#0080ff"/>
<rect x="284" y="457" width="8" height="3" fill="#0080ff"/>
<rect x="294" y="442" width="3" height="28" fill="#0080ff"/>
<rect x="290" y="454" width="10" height="3" fill="#0080ff"/>
<rect x="301" y="451" width="3" height="26" fill="#0080ff"/>
<rect x="298" y="462" width="9" height="3" fill="#0080ff"/>
<rect x="308" y="453" width="3" height="24" fill="#0080ff"/>
<rect x="305" y="463" width="8" height="3" fill="#0080ff"/>
<rect x="316" y="470" width="3" height="18" fill="#0080ff"/>
<rect x="311" y="478" width="11" height="3" fill="#0080ff"/>
<rect x="323" y="417" width="3" height="34" fill="#0080ff"/>
<rect x="320" y="433" width="8" height="3" fill="#0080ff"/>
<rect x="328" y="467" width="3" height="20" fill="#0080ff"/>
<rect x="326" y="475" width="7" height="3" fill="#0080ff"/>
<rect x="333" y="440" width="3" height="30" fill="#0080ff"/>
<rect x="331" y="454" width="7" height="3" fill="#0080ff"/>
<rect x="338" y="468" width="3" height="16" fill="#0080ff"/>
<rect x="336" y="475" width="7" height="3" fill="#0080ff"/>
<rect x="343" y="471" width="3" height="19" fill="#0080ff"/>
<rect x="341" y="480" width="7" height="3" fill="#0080ff"/>
<rect x="349" y="461" width="3" height="20" fill="#0080ff"/>
<rect x="346" y="471" width="8" height="3" fill="#0080ff"/>
<rect x="354" y="442" width="3" height="28" fill="#0080ff"/>
<rect x="352" y="454" width="6" height="3" fill="#0080ff"/>
<rect x="358" y="456" width="3" height="21" fill="#0080ff"/>
<rect x="356" y="465" width="6" height="3" fill="#0080ff"/>
<rect x="362" y="452" width="3" height="25" fill="#0080ff"/>
<rect x="360" y="463" width="6" height="3" fill="#0080ff"/>
<rect x="366" y="466" width="3" height="20" fill="#0080ff"/>
<rect x="364" y="474" width="6" height="3" fill="#0080ff"/>
<rect x="370" y="443" width="3" height="28" fill="#0080ff"/>
<rect x="368" y="455" width="6" height="3" fill="#0080ff"/>
<rect x="375" y="466" width="3" height="18" fill="#0080ff"/>
<rect x="372" y="474" width="7" height="3" fill="#0080ff"/>
<rect x="380" y="436" width="3" height="28" fill="#0080ff"/>
<rect x="377" y="449" width="7" height="3" fill="#0080ff"/>
<rect x="384" y="448" width="3" height="26" fill="#0080ff"/>
<rect x="382" y="460" width="5" height="3" fill="#0080ff"/>
<rect x="386" y="448" width="3" height="26" fill="#0080ff"/>
<rect x="385" y="460" width="5" height="3" fill="#0080ff"/>
<rect x="389" y="476" width="3" height="18" fill="#0080ff"/>
<rect x="388" y="484" width="5" height="3" fill="#0080ff"/>
<rect x="393" y="471" width="3" height="20" fill="#0080ff"/>
<rect x="391" y="480" width="6" height="3" fill="#0080ff"/>
<rect x="397" y="434" width="3" height="28" fill="#0080ff"/>
<rect x="395" y="447" width="5" height="3" fill="#0080ff"/>
<rect x="400" y="455" width="3" height="22" fill="#0080ff"/>
<rect x="398" y="465" width="6" height="3" fill="#0080ff"/>
<rect x="404" y="427" width="3" height="30" fill="#0080ff"/>
<rect x="402" y="441" width="6" height="3" fill="#0080ff"/>
<rect x="407" y="462" width="3" height="21" fill="#0080ff"/>
<rect x="406" y="471" width="5" height="3" fill="#0080ff"/>
<rect x="411" y="445" width="3" height="29" fill="#0080ff"/>
<rect x="409" y="458" width="6" height="3" fill="#0080ff"/>
<rect x="415" y="432" width="3" height="32" fill="#0080ff"/>
<rect x="413" y="447" width="6" height="3" fill="#0080ff"/>
<rect x="418" y="452" width="3" height="23" fill="#0080ff"/>
<rect x="417" y="462" width="5" height="3" fill="#0080ff"/>
<rect x="423" y="448" width="3" height="24" fill="#0080ff"/>
<rect x="420" y="459" width="6" height="3" fill="#0080ff"/>
<rect x="425" y="448" width="3" height="24" fill="#0080ff"/>
<rect x="424" y="458" width="5" height="3" fill="#0080ff"/>
<rect x="429" y="457" width="3" height="23" fill="#0080ff"/>
<rect x="427" y="467" width="6" height="3" fill="#0080ff"/>
<rect x="432" y="455" width="3" height="25" fill="#0080ff"/>
<rect x="431" y="466" width="5" height="3" fill="#0080ff"/>
<rect x="435" y="443" width="3" height="25" fill="#0080ff"/>
<rect x="434" y="454" width="5" height="3" fill="#0080ff"/>
<rect x="439" y="444" width="3" height="26" fill="#0080ff"/>
<rect x="437" y="455" width="5" height="3" fill="#0080ff"/>
<rect x="442" y="464" width="3" height="20" fill="#0080ff"/>
<rect x="440" y="473" width="6" height="3" fill="#0080ff"/>
<rect x="446" y="437" width="3" height="33" fill="#0080ff"/>
<rect x="444" y="449" width="5" height="3" fill="#0080ff"/>
<rect x="449" y="442" width="3" height="28" fill="#0080ff"/>
<rect x="447" y="454" width="6" height="3" fill="#0080ff"/>
<rect x="452" y="433" width="3" height="30" fill="#0080ff"/>
<rect x="451" y="447" width="5" height="3" fill="#0080ff"/>
<rect x="456" y="454" width="3" height="24" fill="#0080ff"/>
<rect x="454" y="464" width="6" height="3" fill="#0080ff"/>
<rect x="460" y="459" width="3" height="22" fill="#0080ff"/>
<rect x="458" y="467" width="6" height="3" fill="#0080ff"/>
<rect x="465" y="480" width="3" height="18" fill="#0080ff"/>
<rect x="462" y="488" width="7" height="3" fill="#0080ff"/>
<rect x="469" y="458" width="3" height="24" fill="#0080ff"/>
<rect x="467" y="468" width="7" height="3" fill="#0080ff"/>
<rect x="474" y="466" width="3" height="22" fill="#0080ff"/>
<rect x="472" y="475" width="5" height="3" fill="#0080ff"/>
<rect x="477" y="439" width="3" height="29" fill="#0080ff"/>
<rect x="475" y="452" width="6" height="3" fill="#0080ff"/>
<rect x="481" y="443" width="3" height="29" fill="#0080ff"/>
<rect x="479" y="456" width="6" height="3" fill="#0080ff"/>
<rect x="484" y="432" width="3" height="31" fill="#0080ff"/>
<rect x="483" y="446" width="5" height="3" fill="#0080ff"/>
<rect x="488" y="445" width="3" height="27" fill="#0080ff"/>
<rect x="486" y="457" width="6" height="3" fill="#0080ff"/>
<rect x="492" y="457" width="3" height="26" fill="#0080ff"/>
<rect x="490" y="468" width="6" height="3" fill="#0080ff"/>
<rect x="496" y="456" width="3" height="27" fill="#0080ff"/>
<rect x="494" y="468" width="6" height="3" fill="#0080ff"/>
<rect x="500" y="450" width="3" height="27" fill="#0080ff"/>
<rect x="498" y="462" width="6" height="3" fill="#0080ff"/>
<rect x="504" y="447" width="3" height="32" fill="#0080ff"/>
<rect x="502" y="461" width="6" height="3" fill="#0080ff"/>
<rect x="508" y="446" width="3" height="31" fill="#0080ff"/>
<rect x="506" y="460" width="5" height="3" fill="#0080ff"/>
<rect x="511" y="476" width="3" height="24" fill="#0080ff"/>
<rect x="509" y="487" width="6" height="3" fill="#0080ff"/>
<rect x="515" y="434" width="3" height="34" fill="#0080ff"/>
<rect x="513" y="450" width="5" height="3" fill="#0080ff"/>
<rect x="518" y="460" width="3" height="28" fill="#0080ff"/>
<rect x="516" y="473" width="6" height="3" fill="#0080ff"/>
<rect x="522" y="426" width="3" height="34" fill="#0080ff"/>
<rect x="520" y="442" width="6" height="3" fill="#0080ff"/>
<rect x="526" y="460" width="3" height="30" fill="#0080ff"/>
<rect x="524" y="474" width="5" height="3" fill="#0080ff"/>
<rect x="528" y="460" width="3" height="30" fill="#0080ff"/>
<rect x="527" y="474" width="5" height="3" fill="#0080ff"/>
<rect x="531" y="435" width="3" height="34" fill="#0080ff"/>
<rect x="530" y="451" width="5" height="3" fill="#0080ff"/>
<rect x="534" y="466" width="3" height="26" fill="#0080ff"/>
<rect x="533" y="478" width="5" height="3" fill="#0080ff"/>
<rect x="537" y="467" width="3" height="27" fill="#0080ff"/>
<rect x="536" y="479" width="5" height="3" fill="#0080ff"/>
<rect x="540" y="442" width="3" height="34" fill="#0080ff"/>
<rect x="539" y="458" width="5" height="3" fill="#0080ff"/>
<rect x="544" y="405" width="3" height="44" fill="#0080ff"/>
<rect x="542" y="425" width="6" height="3" fill="#0080ff"/>
<rect x="547" y="408" width="3" height="51" fill="#0080ff"/>
<rect x="546" y="432" width="5" height="3" fill="#0080ff"/>
<rect x="550" y="422" width="3" height="37" fill="#0080ff"/>
<rect x="549" y="439" width="4" height="3" fill="#0080ff"/>
<rect x="553" y="472" width="3" height="27" fill="#0080ff"/>
<rect x="551" y="484" width="5" height="3" fill="#0080ff"/>
<rect x="556" y="441" width="3" height="36" fill="#0080ff"/>
<rect x="554" y="456" width="6" height="3" fill="#0080ff"/>
<rect x="559" y="459" width="3" height="26" fill="#0080ff"/>
<rect x="558" y="471" width="5" height="3" fill="#0080ff"/>
<rect x="562" y="442" width="3" height="35" fill="#0080ff"/>
<rect x="561" y="458" width="5" height="3" fill="#0080ff"/>
<rect x="565" y="448" width="3" height="36" fill="#0080ff"/>
<rect x="564" y="465" width="5" height="3" fill="#0080ff"/>
<rect x="568" y="473" width="3" height="26" fill="#0080ff"/>
<rect x="567" y="484" width="4" height="3" fill="#0080ff"/>
<rect x="571" y="462" width="3" height="31" fill="#0080ff"/>
<rect x="569" y="476" width="5" height="3" fill="#0080ff"/>
<rect x="573" y="423" width="3" height="39" fill="#0080ff"/>
<rect x="572" y="441" width="4" height="3" fill="#0080ff"/>
<rect x="576" y="431" width="3" height="39" fill="#0080ff"/>
<rect x="574" y="449" width="5" height="3" fill="#0080ff"/>
<rect x="578" y="425" width="3" height="37" fill="#0080ff"/>
<rect x="577" y="443" width="5" height="3" fill="#0080ff"/>
<rect x="581" y="466" width="3" height="27" fill="#0080ff"/>
<rect x="580" y="478" width="5" height="3" fill="#0080ff"/>
<rect x="584" y="447" width="3" height="34" fill="#0080ff"/>
<rect x="583" y="462" width="4" height="3" fill="#0080ff"/>
<rect x="586" y="404" width="3" height="51" fill="#0080ff"/>
<rect x="585" y="425" width="4" height="3" fill="#0080ff"/>
<rect x="588" y="440" width="3" height="41" fill="#0080ff"/>
<rect x="587" y="459" width="4" height="3" fill="#0080ff"/>
<rect x="590" y="410" width="3" height="45" fill="#0080ff"/>
<rect x="589" y="431" width="5" height="3" fill="#0080ff"/>
<rect x="593" y="468" width="3" height="25" fill="#0080ff"/>
<rect x="592" y="479" width="5" height="3" fill="#0080ff"/>
<rect x="596" y="466" width="3" height="31" fill="#0080ff"/>
<rect x="595" y="480" width="5" height="3" fill="#0080ff"/>
<rect x="599" y="462" width="3" height="30" fill="#0080ff"/>
<rect x="598" y="475" width="4" height="3" fill="#0080ff"/>
<rect x="602" y="453" width="3" height="36" fill="#0080ff"/>
<rect x="600" y="469" width="5" height="3" fill="#0080ff"/>
<rect x="605" y="450" width="3" height="38" fill="#0080ff"/>
<rect x="603" y="468" width="4" height="3" fill="#0080ff"/>
<rect x="606" y="434" width="3" height="41" fill="#0080ff"/>
<rect x="605" y="453" width="4" height="3" fill="#0080ff"/>
<rect x="608" y="434" width="3" height="50" fill="#0080ff"/>
<rect x="607" y="457" width="4" height="3" fill="#0080ff"/>
<rect x="610" y="433" width="3" height="51" fill="#0080ff"/>
<rect x="609" y="457" width="4" height="3" fill="#0080ff"/>
<rect x="613" y="454" width="3" height="44" fill="#0080ff"/>
<rect x="611" y="474" width="5" height="3" fill="#0080ff"/>
<rect x="615" y="460" width="3" height="42" fill="#0080ff"/>
<rect x="614" y="479" width="4" height="3" fill="#0080ff"/>
<rect x="617" y="439" width="3" height="49" fill="#0080ff"/>
<rect x="616" y="462" width="4" height="3" fill="#0080ff"/>
<rect x="619" y="429" width="3" height="43" fill="#0080ff"/>
<rect x="618" y="449" width="4" height="3" fill="#0080ff"/>
<rect x="622" y="491" width="3" height="19" fill="#0080ff"/>
<rect x="620" y="499" width="6" height="3" fill="#0080ff"/>
<rect x="625" y="475" width="3" height="25" fill="#0080ff"/>
<rect x="624" y="486" width="5" height="3" fill="#0080ff"/>
<rect x="628" y="447" width="3" height="40" fill="#0080ff"/>
<rect x="627" y="465" width="4" height="3" fill="#0080ff"/>
<rect x="630" y="431" width="3" height="51" fill="#0080ff"/>
<rect x="629" y="455" width="4" height="3" fill="#0080ff"/>
<rect x="633" y="468" width="3" height="34" fill="#0080ff"/>
<rect x="631" y="483" width="5" height="3" fill="#0080ff"/>
<rect x="636" y="459" width="3" height="39" fill="#0080ff"/>
<rect x="634" y="477" width="5" height="3" fill="#0080ff"/>
<rect x="639" y="406" width="3" height="60" fill="#0080ff"/>
<rect x="637" y="435" width="5" height="3" fill="#0080ff"/>
<rect x="641" y="430" width="3" height="55" fill="#0080ff"/>
<rect x="640" y="456" width="4" height="3" fill="#0080ff"/>
<rect x="643" y="426" width="3" height="46" fill="#0080ff"/>
<rect x="642" y="447" width="4" height="3" fill="#0080ff"/>
<rect x="646" y="421" width="3" height="53" fill="#0080ff"/>
<rect x="644" y="446" width="5" height="3" fill="#0080ff"/>
<rect x="649" y="420" width="3" height="59" fill="#0080ff"/>
<rect x="647" y="448" width="6" height="3" fill="#0080ff"/>
<rect x="652" y="402" width="3" height="80" fill="#0080ff"/>
<rect x="651" y="441" width="5" height="3" fill="#0080ff"/>
<rect x="656" y="460" width="3" height="38" fill="#0080ff"/>
<rect x="654" y="477" width="6" height="3" fill="#0080ff"/>
<rect x="659" y="446" width="3" height="56" fill="#0080ff"/>
<rect x="658" y="472" width="4" height="3" fill="#0080ff"/>
<rect x="662" y="417" width="3" height="79" fill="#0080ff"/>
<rect x="660" y="455" width="5" height="3" fill="#0080ff"/>
<rect x="664" y="369" width="3" height="83" fill="#0080ff"/>
<rect x="663" y="409" width="4" height="3" fill="#0080ff"/>
<rect x="666" y="376" width="3" height="107" fill="#0080ff"/>
<rect x="665" y="428" width="4" height="3" fill="#0080ff"/>
<rect x="668" y="413" width="3" height="70" fill="#0080ff"/>
<rect x="667" y="447" width="4" height="3" fill="#0080ff"/>
<rect x="670" y="428" width="3" height="53" fill="#0080ff"/>
<rect x="669" y="453" width="4" height="3" fill="#0080ff"/>
<rect x="672" y="431" width="3" height="50" fill="#0080ff"/>
<rect x="671" y="454" width="4" height="3" fill="#0080ff"/>
<rect x="674" y="380" width="3" height="81" fill="#0080ff"/>
<rect x="673" y="419" width="4" height="3" fill="#0080ff"/>
<rect x="676" y="461" width="3" height="41" fill="#0080ff"/>
<rect x="675" y="480" width="5" height="3" fill="#0080ff"/>
<rect x="679" y="442" width="3" height="53" fill="#0080ff"/>
<rect x="678" y="467" width="4" height="3" fill="#0080ff"/>
<rect x="682" y="468" width="3" height="42" fill="#0080ff"/>
<rect x="680" y="487" width="6" height="3" fill="#0080ff"/>
<rect x="687" y="458" width="3" height="38" fill="#0080ff"/>
<rect x="684" y="475" width="8" height="3" fill="#0080ff"/>
<rect x="692" y="480" width="3" height="30" fill="#0080ff"/>
<rect x="687" y="493" width="11" height="3" fill="#0080ff"/>
<rect x="697" y="432" width="3" height="59" fill="#0080ff"/>
<rect x="696" y="460" width="5" height="3" fill="#0080ff"/>
<rect x="700" y="447" width="3" height="55" fill="#0080ff"/>
<rect x="699" y="473" width="4" height="3" fill="#0080ff"/>
<rect x="705" y="459" width="3" height="40" fill="#0080ff"/>
<rect x="701" y="476" width="9" height="3" fill="#0080ff"/>
<rect x="713" y="453" width="3" height="41" fill="#0080ff"/>
<rect x="708" y="472" width="11" height="3" fill="#0080ff"/>
<rect x="722" y="442" width="3" height="50" fill="#0080ff"/>
<rect x="717" y="466" width="12" height="3" fill="#0080ff"/>
<rect x="737" y="461" width="3" height="41" fill="#0080ff"/>
<rect x="727" y="480" width="22" height="3" fill="#0080ff"/>
<rect x="750" y="250" width="3" height="184" fill="#0080ff"/>
<rect x="747" y="340" width="10" height="3" fill="#0080ff"/>
</g>
<rect x="149" y="464" width="608" height="3" fill="#00ff00"/>
</g>
<g>
<text x="453.4" y="24" text-anchor="middle" font-size="21.4" textLength="382" lengthAdjust="spacingAndGlyphs">Swift−XRT WT spectrum of GRB 200716C</text>
<text x="454.5" y="550" text-anchor="middle" font-size="21.4" textLength="117" lengthAdjust="spacingAndGlyphs">Energy (keV)</text>
<text transform="translate(238.5,527) scale(0.935,1)" text-anchor="middle" font-size="21.4" >0.5</text>
<text transform="translate(358.5,527) scale(0.935,1)" text-anchor="middle" font-size="21.4" >1</text>
<text transform="translate(478.5,527) scale(0.935,1)" text-anchor="middle" font-size="21.4" >2</text>
<text transform="translate(636.5,527) scale(0.935,1)" text-anchor="middle" font-size="21.4" >5</text>
<text transform="translate(137.5,143) scale(0.935,1)" text-anchor="end" font-size="21.4" >10</text>
<text transform="translate(137.5,241) scale(0.935,1)" text-anchor="end" font-size="21.4" >1</text>
<text transform="translate(137.5,338) scale(0.935,1)" text-anchor="end" font-size="21.4" >0.1</text>
<text transform="translate(137.5,471) scale(0.935,1)" text-anchor="end" font-size="21.4" >1</text>
<text transform="translate(137.5,411) scale(0.935,1)" text-anchor="end" font-size="21.4" >2</text>
<text transform="translate(137.5,352) scale(0.935,1)" text-anchor="end" font-size="21.4" >3</text>
<g transform="translate(53,266.5) rotate(-90)" font-size="21.4"><text x="0" y="0" textLength="56.5" lengthAdjust="spacingAndGlyphs">counts</text><text x="61" y="0" textLength="10.5" lengthAdjust="spacingAndGlyphs">s</text><text x="75" y="-7" font-size="13" textLength="11" lengthAdjust="spacingAndGlyphs">−1</text><text x="89.5" y="0" textLength="36" lengthAdjust="spacingAndGlyphs">keV</text><text x="128" y="-7" font-size="13" textLength="11.5" lengthAdjust="spacingAndGlyphs">−1</text></g>
<text transform="translate(52,442) rotate(-90)" font-size="20.8" textLength="38.6" lengthAdjust="spacingAndGlyphs">ratio</text>
</g>
</svg>
</body></html>
